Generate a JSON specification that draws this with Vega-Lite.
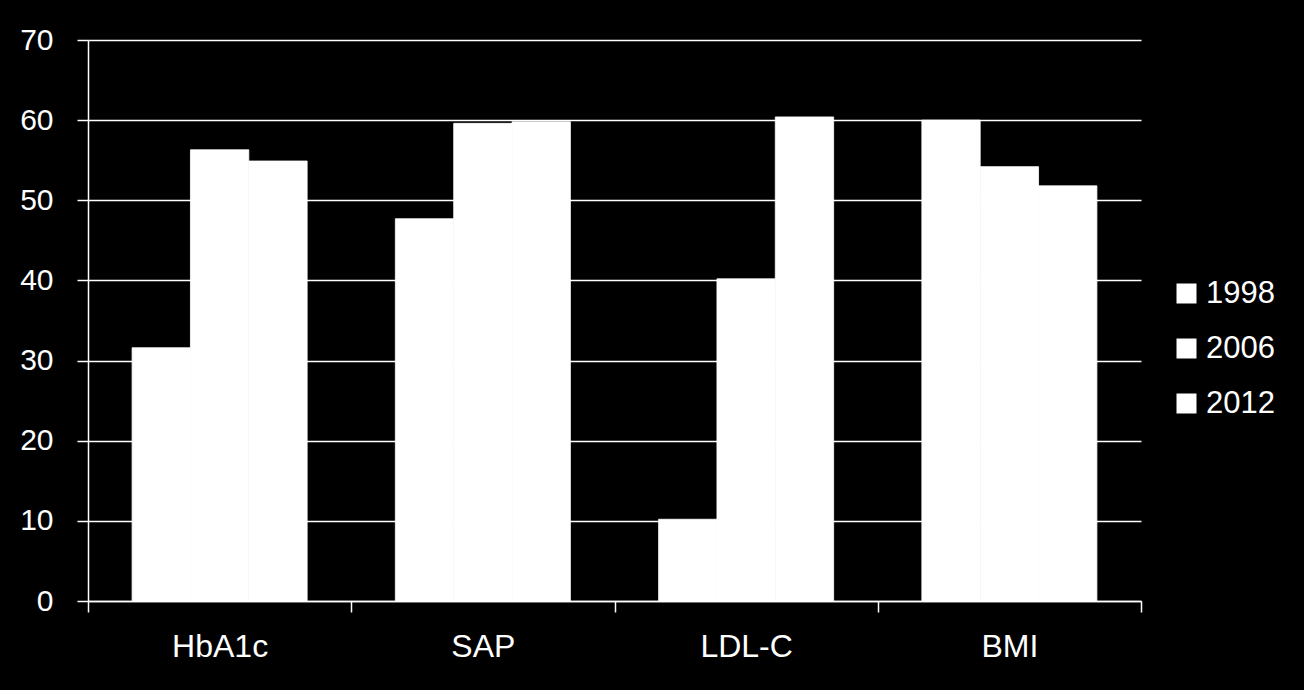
{
  "$schema": "https://vega.github.io/schema/vega-lite/v6.json",
  "width": 1053,
  "height": 561,
  "autosize": {"type": "none"},
  "padding": {"left": 88, "top": 40, "right": 163, "bottom": 89},
  "background": "black",
  "config": {
    "view": {"stroke": "transparent"},
    "font": "Liberation Sans, Arial, sans-serif"
  },
  "data": {
    "values": [
      {"measure": "HbA1c", "year": "1998", "value": 31.6},
      {"measure": "HbA1c", "year": "2006", "value": 56.3},
      {"measure": "HbA1c", "year": "2012", "value": 54.9},
      {"measure": "SAP", "year": "1998", "value": 47.7},
      {"measure": "SAP", "year": "2006", "value": 59.6},
      {"measure": "SAP", "year": "2012", "value": 59.8},
      {"measure": "LDL-C", "year": "1998", "value": 10.2},
      {"measure": "LDL-C", "year": "2006", "value": 40.2},
      {"measure": "LDL-C", "year": "2012", "value": 60.4},
      {"measure": "BMI", "year": "1998", "value": 60.0},
      {"measure": "BMI", "year": "2006", "value": 54.2},
      {"measure": "BMI", "year": "2012", "value": 51.8}
    ]
  },
  "mark": {"type": "bar", "stroke": "white", "strokeWidth": 0.8},
  "encoding": {
    "x": {
      "field": "measure",
      "type": "nominal",
      "sort": ["HbA1c", "SAP", "LDL-C", "BMI"],
      "title": null,
      "scale": {"paddingInner": 0, "paddingOuter": 0},
      "axis": {
        "labelAngle": 0,
        "labelColor": "white",
        "labelFontSize": 32,
        "labelBaseline": "middle",
        "labelPadding": 34,
        "domainColor": "white",
        "domainWidth": 1.5,
        "tickColor": "white",
        "tickWidth": 1.5,
        "tickSize": 11,
        "tickBand": "extent",
        "grid": false
      }
    },
    "xOffset": {
      "field": "year",
      "type": "nominal",
      "scale": {"paddingInner": 0, "paddingOuter": 0.756}
    },
    "y": {
      "field": "value",
      "type": "quantitative",
      "title": null,
      "scale": {"domain": [0, 70], "nice": false},
      "axis": {
        "values": [0, 10, 20, 30, 40, 50, 60, 70],
        "labelColor": "white",
        "labelFontSize": 30,
        "labelPadding": 24,
        "domainColor": "white",
        "domainWidth": 1.5,
        "tickColor": "white",
        "tickWidth": 1.5,
        "tickSize": 11,
        "gridColor": "white",
        "gridWidth": 1.5,
        "gridOpacity": 1
      }
    },
    "color": {
      "field": "year",
      "type": "nominal",
      "title": null,
      "scale": {"range": ["white", "white", "white"]},
      "legend": {
        "orient": "none",
        "legendX": 1083,
        "legendY": 238,
        "symbolType": "square",
        "symbolSize": 400,
        "symbolFillColor": "white",
        "symbolStrokeWidth": 0,
        "symbolOpacity": 1,
        "labelColor": "white",
        "labelFontSize": 31,
        "labelOffset": 4,
        "rowPadding": 23
      }
    }
  }
}
